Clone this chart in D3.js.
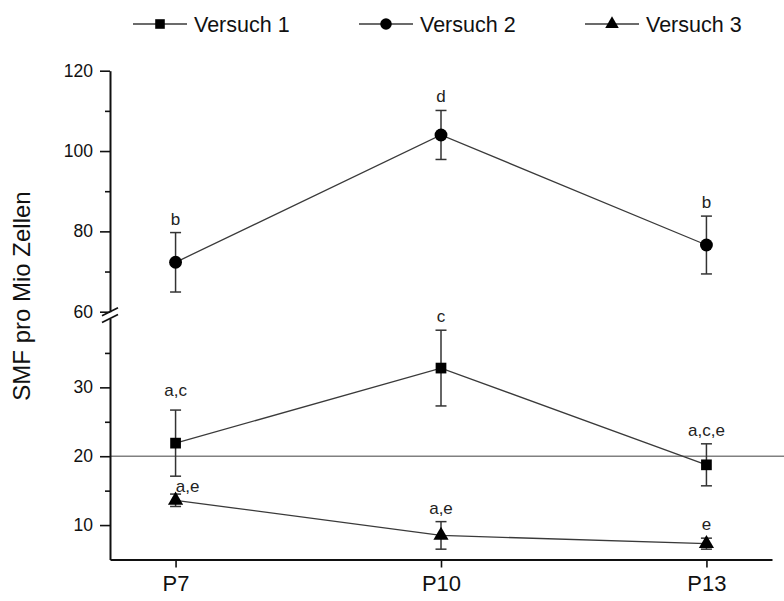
<!DOCTYPE html>
<html>
<head>
<meta charset="utf-8">
<script src="https://cdn.jsdelivr.net/npm/d3@7"></script>
<style>
  html, body { margin: 0; padding: 0; background: #fff; }
  svg { display: block; font-family: "Liberation Sans", Arial, sans-serif; }
</style>
</head>
<body>
<svg id="chart" width="784" height="601"></svg>
<script>
// Passages on the x axis
const categories = ["P7", "P10", "P13"];

// Series names
const seriesNames = ["Versuch 1", "Versuch 2", "Versuch 3"];

// Means and error (± SD) per passage
const v1Mean = [21.9, 32.8, 18.75];
const v1Err  = [4.8, 5.5, 3.05];
const v2Mean = [72.3, 104.0, 76.6];
const v2Err  = [7.4, 6.1, 7.2];
const v3Mean = [13.6, 8.5, 7.3];
const v3Err  = [0.9, 2.0, 0.8];

// Significance letters above each point
const v1Letters = ["a,c", "c", "a,c,e"];
const v2Letters = ["b", "d", "b"];
const v3Letters = ["a,e", "a,e", "e"];

// Y-axis ticks for the two segments of the broken axis
const upperMajor = [60, 80, 100, 120];
const upperMinor = [70, 90, 110];
const lowerMajor = [10, 20, 30];
const lowerMinor = [15, 25, 35];
const referenceValue = 20;

const yTitle = "SMF pro Mio Zellen";

const series = [
  { name: seriesNames[0], mean: v1Mean, err: v1Err, letters: v1Letters, symbol: d3.symbolSquare, size: 115 },
  { name: seriesNames[1], mean: v2Mean, err: v2Err, letters: v2Letters, symbol: d3.symbolCircle, size: 130 },
  { name: seriesNames[2], mean: v3Mean, err: v3Err, letters: v3Letters, symbol: d3.symbolTriangle, size: 100 }
];

const svg = d3.select("#chart");

const axisLeftX = 110, axisRightX = 772, axisBottomY = 559.5;

const x = d3.scalePoint().domain(categories).range([axisLeftX, axisRightX]).padding(0.247);

// Broken y axis: lower segment 5–40, upper segment 60–120
const yLower = d3.scaleLinear().domain([5, 40]).range([axisBottomY, 318.5]);
const yUpper = d3.scaleLinear().domain([60, 120]).range([311.7, 70.7]);
const y = v => (v >= 50 ? yUpper(v) : yLower(v));

// Reference line at 20
svg.append("line")
  .attr("x1", axisLeftX).attr("x2", 784)
  .attr("y1", yLower(referenceValue)).attr("y2", yLower(referenceValue))
  .attr("stroke", "#808080").attr("stroke-width", 1.5);

// Y axis segments
function drawYSegment(scale, major, minor) {
  const gMinor = svg.append("g").attr("transform", `translate(${axisLeftX},0)`)
    .call(d3.axisLeft(scale).tickValues(minor).tickSize(5).tickSizeOuter(0).tickFormat(""));
  gMinor.select(".domain").remove();
  gMinor.selectAll("line").attr("stroke", "#111").attr("stroke-width", 1.6);

  const g = svg.append("g").attr("transform", `translate(${axisLeftX},0)`)
    .call(d3.axisLeft(scale).tickValues(major).tickSize(10).tickSizeOuter(0).tickPadding(7));
  g.select(".domain").attr("stroke", "#111").attr("stroke-width", 2);
  g.selectAll(".tick line").attr("stroke", "#111").attr("stroke-width", 1.6);
  g.selectAll(".tick text")
    .attr("font-family", "Liberation Sans, Arial, sans-serif")
    .attr("font-size", 17.5).attr("fill", "#111");
}
drawYSegment(yUpper, upperMajor, upperMinor);
drawYSegment(yLower, lowerMajor, lowerMinor);

// Break marks where the axis is interrupted
[yUpper(60), yLower(40)].forEach(yy => {
  svg.append("line")
    .attr("x1", axisLeftX - 8).attr("y1", yy + 4)
    .attr("x2", axisLeftX + 8).attr("y2", yy - 4)
    .attr("stroke", "#111").attr("stroke-width", 1.6);
});

// X axis
const gx = svg.append("g").attr("transform", `translate(0,${axisBottomY})`)
  .call(d3.axisBottom(x).tickSize(8).tickSizeOuter(0).tickPadding(8));
gx.select(".domain").attr("stroke", "#111").attr("stroke-width", 2);
gx.selectAll(".tick line").attr("stroke", "#111").attr("stroke-width", 1.6);
gx.selectAll(".tick text")
  .attr("font-family", "Liberation Sans, Arial, sans-serif")
  .attr("font-size", 22).attr("fill", "#111");

// Y title
svg.append("text")
  .attr("transform", `translate(30,296) rotate(-90)`)
  .attr("text-anchor", "middle")
  .attr("font-size", 24).attr("fill", "#111")
  .text(yTitle);

// Small manual nudges for crowded letter labels
const labelNudge = { "Versuch 1|P7": [0, -6], "Versuch 3|P7": [12, 6] };

series.forEach(s => {
  const pts = categories.map((c, i) => ({ c, m: s.mean[i], e: s.err[i], l: s.letters[i] }));

  // connecting line
  svg.append("path")
    .datum(pts)
    .attr("fill", "none")
    .attr("stroke", "#3a3a3a").attr("stroke-width", 1.3)
    .attr("d", d3.line().x(d => x(d.c)).y(d => y(d.m)));

  // error bars
  const eb = svg.append("g").attr("stroke", "#333").attr("stroke-width", 1.5);
  pts.forEach(d => {
    const cx = x(d.c), top = y(d.m + d.e), bot = y(d.m - d.e);
    eb.append("line").attr("x1", cx).attr("x2", cx).attr("y1", top).attr("y2", bot);
    eb.append("line").attr("x1", cx - 5.5).attr("x2", cx + 5.5).attr("y1", top).attr("y2", top);
    eb.append("line").attr("x1", cx - 5.5).attr("x2", cx + 5.5).attr("y1", bot).attr("y2", bot);
  });

  // markers
  svg.append("g").selectAll("path").data(pts).join("path")
    .attr("transform", d => `translate(${x(d.c)},${y(d.m)})`)
    .attr("d", d3.symbol().type(s.symbol).size(s.size))
    .attr("fill", "#000");

  // letters
  svg.append("g").selectAll("text").data(pts).join("text")
    .attr("x", d => x(d.c) + (labelNudge[s.name + "|" + d.c] || [0, 0])[0])
    .attr("y", d => y(d.m + d.e) - 8 + (labelNudge[s.name + "|" + d.c] || [0, 0])[1])
    .attr("text-anchor", "middle")
    .attr("font-size", 17).attr("fill", "#222")
    .text(d => d.l);
});

// Legend
const legendX = [133, 359, 585];
series.forEach((s, i) => {
  const g = svg.append("g").attr("transform", `translate(${legendX[i]},24)`);
  g.append("line").attr("x1", 0).attr("x2", 54).attr("y1", 0).attr("y2", 0)
    .attr("stroke", "#3a3a3a").attr("stroke-width", 1.3);
  g.append("path").attr("transform", "translate(27,0)")
    .attr("d", d3.symbol().type(s.symbol).size(s.size * 0.8)).attr("fill", "#000");
  g.append("text").attr("x", 61).attr("y", 0).attr("dy", "0.36em")
    .attr("font-size", 21.5).attr("fill", "#111").text(s.name);
});
</script>
</body>
</html>
